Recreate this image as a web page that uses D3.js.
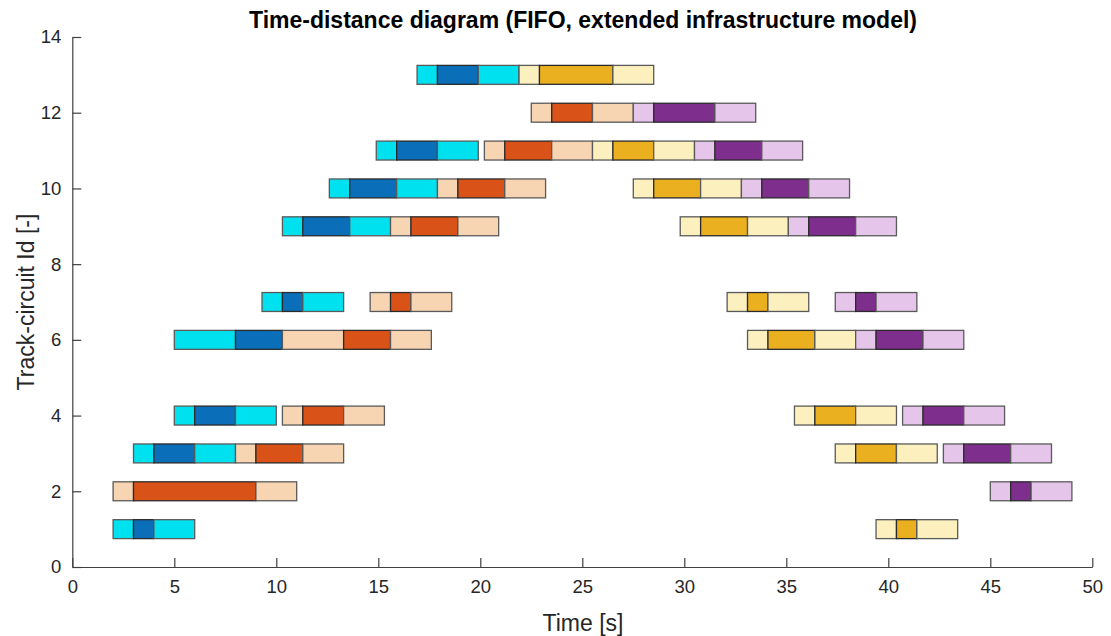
<!DOCTYPE html>
<html>
<head>
<meta charset="utf-8">
<script src="https://cdn.jsdelivr.net/npm/d3@7"></script>
<style>
  body { margin: 0; background: #fff; }
  text { font-family: "Liberation Sans", Arial, Helvetica, sans-serif; fill: #262626; }
</style>
</head>
<body>
<svg id="chart" width="1111" height="636"></svg>
<script>
//one row per track visit: [track, start, occupied from, occupied to, end]
var train1 = [
	[1, 2, 3, 4, 6],
	[3, 3, 4, 6, 8],
	[4, 5, 6, 8, 10],
	[6, 5, 8, 10.3, 10.3],
	[7, 9.3, 10.3, 11.3, 13.3],
	[9, 10.3, 11.3, 13.6, 15.6],
	[10, 12.6, 13.6, 15.9, 17.9],
	[11, 14.9, 15.9, 17.9, 19.9],
	[13, 16.9, 17.9, 19.9, 21.9]
];
var train2 = [
	[2, 2, 3, 9, 11],
	[3, 8, 9, 11.3, 13.3],
	[4, 10.3, 11.3, 13.3, 15.3],
	[6, 10.3, 13.3, 15.6, 17.6],
	[7, 14.6, 15.6, 16.6, 18.6],
	[9, 15.6, 16.6, 18.9, 20.9],
	[10, 17.9, 18.9, 21.2, 23.2],
	[11, 20.2, 21.2, 23.5, 25.5],
	[12, 22.5, 23.5, 25.5, 27.5]
];
var train3 = [
	[13, 21.9, 22.9, 26.5, 28.5],
	[11, 25.5, 26.5, 28.5, 30.5],
	[10, 27.5, 28.5, 30.8, 32.8],
	[9, 29.8, 30.8, 33.1, 35.1],
	[7, 32.1, 33.1, 34.1, 36.1],
	[6, 33.1, 34.1, 36.4, 38.4],
	[4, 35.4, 36.4, 38.4, 40.4],
	[3, 37.4, 38.4, 40.4, 42.4],
	[1, 39.4, 40.4, 41.4, 43.4]
];
var train4 = [
	[12, 27.5, 28.5, 31.5, 33.5],
	[11, 30.5, 31.5, 33.8, 35.8],
	[10, 32.8, 33.8, 36.1, 38.1],
	[9, 35.1, 36.1, 38.4, 40.4],
	[7, 37.4, 38.4, 39.4, 41.4],
	[6, 38.4, 39.4, 41.7, 43.7],
	[4, 40.7, 41.7, 43.7, 45.7],
	[3, 42.7, 43.7, 46.0, 48.0],
	[2, 45, 46, 47, 49]
];
//[light, dark] colour of every train
var trainColors = [
	['#00e1f0', '#0a6fb8'],
	['#f8d5b2', '#d95319'],
	['#fdf0bf', '#ebb020'],
	['#e5c5ea', '#7e2f8e']
];
var xTicks = [0, 5, 10, 15, 20, 25, 30, 35, 40, 45, 50];
var yTicks = [0, 2, 4, 6, 8, 10, 12, 14];

var fv = {
	'left': 72.3,
	'right': 1092.3,
	'top': 37,
	'bottom': 567,
	'barHalf': 0.25,
	'tickLen': 9
};

var svg = d3.select('#chart');

var x = d3.scaleLinear().domain([0, 50]).range([fv.left, fv.right]);
var y = d3.scaleLinear().domain([0, 14]).range([fv.bottom, fv.top]);

//break every visit into light / dark / light pieces
var pieces = [];
[train1, train2, train3, train4].forEach(function(rows, k) {
	rows.forEach(function(r) {
		var cols = [trainColors[k][0], trainColors[k][1], trainColors[k][0]];
		for (var j = 0; j < 3; j++) {
			if (r[j + 2] > r[j + 1]) {
				pieces.push({ track: r[0], t0: r[j + 1], t1: r[j + 2], fill: cols[j], dark: j === 1 });
			}
		}
	});
});

svg.append('g').selectAll('rect')
	.data(pieces)
	.enter().append('rect')
	.attr('x', function(d) { return x(d.t0); })
	.attr('y', function(d) { return y(d.track + fv.barHalf); })
	.attr('width', function(d) { return x(d.t1) - x(d.t0); })
	.attr('height', function(d) { return y(d.track - fv.barHalf) - y(d.track + fv.barHalf); })
	.style('fill', function(d) { return d.fill; })
	.style('stroke', function(d) { return d.dark ? '#2a2a2a' : '#5a5a5a'; })
	.style('stroke-width', 1.3);

//axes, ticks pointing inside like matlab
var xAxis = svg.append('g')
	.attr('transform', 'translate(0,' + fv.bottom + ')')
	.call(d3.axisBottom(x).tickValues(xTicks).tickSizeInner(-fv.tickLen).tickSizeOuter(0).tickPadding(13));
var yAxis = svg.append('g')
	.attr('transform', 'translate(' + fv.left + ',0)')
	.call(d3.axisLeft(y).tickValues(yTicks).tickSizeInner(-fv.tickLen).tickSizeOuter(0).tickPadding(11));

[xAxis, yAxis].forEach(function(a) {
	a.select('.domain').attr('stroke', '#404040').attr('stroke-width', 1.2);
	a.selectAll('.tick line').attr('stroke', '#404040').attr('stroke-width', 1.2);
	a.selectAll('.tick text')
		.style('font-size', '18.5px')
		.style('font-family', '"Liberation Sans", Arial, sans-serif')
		.attr('fill', '#262626');
});

//labels
svg.append('text')
	.attr('x', 583)
	.attr('y', 28)
	.attr('text-anchor', 'middle')
	.style('font-size', '23px')
	.style('font-weight', 'bold')
	.style('fill', '#000')
	.text('Time-distance diagram (FIFO, extended infrastructure model)');

svg.append('text')
	.attr('x', 583)
	.attr('y', 631)
	.attr('text-anchor', 'middle')
	.style('font-size', '23px')
	.text('Time [s]');

svg.append('text')
	.attr('transform', 'translate(34,' + (fv.top + fv.bottom) / 2 + ') rotate(-90)')
	.attr('text-anchor', 'middle')
	.style('font-size', '23px')
	.text('Track-circuit Id [-]');
</script>
</body>
</html>
